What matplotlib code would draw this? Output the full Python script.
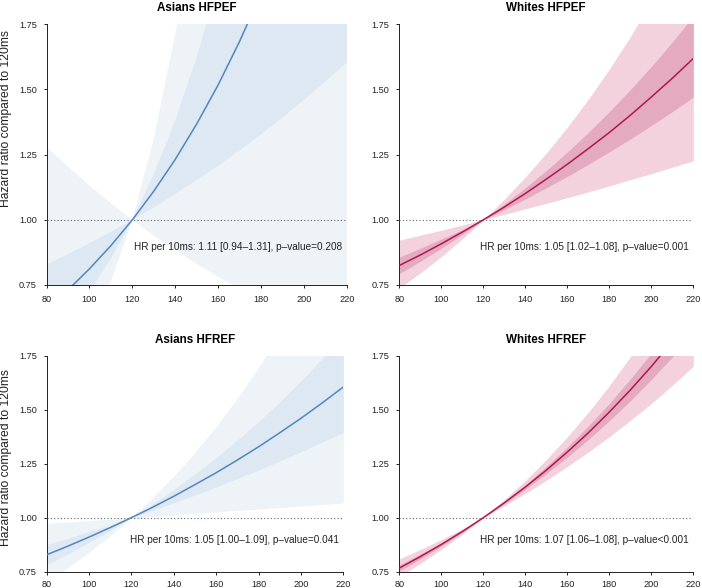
import matplotlib
matplotlib.use("Agg")
import matplotlib.pyplot as plt

plt.rcParams['font.family'] = ['Liberation Sans', 'DejaVu Sans']

# QRS duration (ms) grid
ms = [80, 90, 100, 110, 120, 130, 140, 150, 160, 170, 180, 190, 200, 210, 220]

# Asians HFPEF
a_pef_hr = [0.659, 0.731, 0.812, 0.901, 1.000, 1.110, 1.232, 1.368, 1.518, 1.685, 1.870, 2.076, 2.305, 2.558, 2.839]
a_pef_lo95 = [1.281, 1.204, 1.132, 1.064, 1.000, 0.940, 0.884, 0.831, 0.781, 0.734, 0.690, 0.649, 0.610, 0.573, 0.539]
a_pef_hi95 = [0.340, 0.445, 0.583, 0.763, 1.000, 1.310, 1.716, 2.248, 2.945, 3.858, 5.054, 6.621, 8.673, 11.36, 14.88]
a_pef_lo50 = [0.828, 0.868, 0.910, 0.954, 1.000, 1.048, 1.099, 1.153, 1.208, 1.267, 1.328, 1.393, 1.460, 1.531, 1.605]
a_pef_hi50 = [0.524, 0.616, 0.724, 0.851, 1.000, 1.175, 1.381, 1.623, 1.908, 2.242, 2.635, 3.097, 3.640, 4.278, 5.028]

# Whites HFPEF
w_pef_hr = [0.825, 0.865, 0.908, 0.953, 1.000, 1.049, 1.101, 1.156, 1.213, 1.273, 1.335, 1.401, 1.471, 1.543, 1.619]
w_pef_lo95 = [0.922, 0.941, 0.960, 0.980, 1.000, 1.021, 1.042, 1.063, 1.085, 1.107, 1.130, 1.154, 1.177, 1.202, 1.226]
w_pef_hi95 = [0.738, 0.796, 0.859, 0.927, 1.000, 1.079, 1.164, 1.256, 1.355, 1.462, 1.578, 1.702, 1.837, 1.982, 2.138]
w_pef_lo50 = [0.857, 0.891, 0.926, 0.962, 1.000, 1.039, 1.080, 1.123, 1.167, 1.213, 1.261, 1.310, 1.362, 1.415, 1.471]
w_pef_hi50 = [0.794, 0.841, 0.891, 0.944, 1.000, 1.060, 1.123, 1.189, 1.260, 1.335, 1.415, 1.499, 1.588, 1.682, 1.782]

# Asians HFREF
a_ref_hr = [0.828, 0.868, 0.910, 0.954, 1.000, 1.048, 1.099, 1.153, 1.208, 1.267, 1.328, 1.393, 1.460, 1.531, 1.605]
a_ref_lo95 = [0.974, 0.980, 0.987, 0.993, 1.000, 1.007, 1.013, 1.020, 1.027, 1.034, 1.040, 1.047, 1.054, 1.061, 1.068]
a_ref_hi95 = [0.703, 0.768, 0.839, 0.916, 1.000, 1.092, 1.193, 1.302, 1.422, 1.553, 1.696, 1.852, 2.022, 2.208, 2.411]
a_ref_lo50 = [0.875, 0.905, 0.936, 0.967, 1.000, 1.034, 1.069, 1.105, 1.143, 1.181, 1.221, 1.263, 1.305, 1.350, 1.395]
a_ref_hi50 = [0.783, 0.832, 0.885, 0.941, 1.000, 1.063, 1.131, 1.202, 1.278, 1.359, 1.445, 1.536, 1.633, 1.736, 1.846]

# Whites HFREF
w_ref_hr = [0.767, 0.820, 0.876, 0.936, 1.000, 1.069, 1.142, 1.220, 1.304, 1.393, 1.489, 1.591, 1.700, 1.816, 1.941]
w_ref_lo95 = [0.809, 0.853, 0.899, 0.948, 1.000, 1.055, 1.112, 1.173, 1.237, 1.304, 1.375, 1.450, 1.529, 1.613, 1.701]
w_ref_hi95 = [0.728, 0.788, 0.853, 0.924, 1.000, 1.083, 1.172, 1.269, 1.374, 1.488, 1.611, 1.745, 1.889, 2.045, 2.215]
w_ref_lo50 = [0.781, 0.831, 0.884, 0.940, 1.000, 1.064, 1.132, 1.204, 1.280, 1.362, 1.449, 1.541, 1.640, 1.744, 1.855]
w_ref_hi50 = [0.753, 0.809, 0.868, 0.932, 1.000, 1.073, 1.152, 1.237, 1.327, 1.425, 1.529, 1.642, 1.762, 1.891, 2.030]

titles = ["Asians HFPEF", "Whites HFPEF", "Asians HFREF", "Whites HFREF"]
labels = [
    "HR per 10ms: 1.11 [0.94\u20131.31], p\u2013value=0.208",
    "HR per 10ms: 1.05 [1.02\u20131.08], p\u2013value=0.001",
    "HR per 10ms: 1.05 [1.00\u20131.09], p\u2013value=0.041",
    "HR per 10ms: 1.07 [1.06\u20131.08], p\u2013value<0.001",
]
ylab = "Hazard ratio compared to 120ms"

blue = dict(line="#5286bd", outer="#eef3f8", inner="#dde8f2")
pink = dict(line="#b0174f", outer="#f3d1dd", inner="#e4aac0")

panels = [
    (a_pef_hr, a_pef_lo95, a_pef_hi95, a_pef_lo50, a_pef_hi50, blue),
    (w_pef_hr, w_pef_lo95, w_pef_hi95, w_pef_lo50, w_pef_hi50, pink),
    (a_ref_hr, a_ref_lo95, a_ref_hi95, a_ref_lo50, a_ref_hi50, blue),
    (w_ref_hr, w_ref_lo95, w_ref_hi95, w_ref_lo50, w_ref_hi50, pink),
]

W, H = 702, 588
# axes boxes in pixels: left, top, right, bottom
boxes = [
    (46.5, 24.3, 347.0, 285.0),
    (399.3, 24.3, 693.3, 285.0),
    (46.5, 355.7, 343.3, 571.7),
    (399.3, 355.7, 693.3, 571.7),
]
xpads = [4.5, 4.5, 3.2, 3.2]

fig = plt.figure(figsize=(W / 100, H / 100), dpi=100)

for i, (hr, lo95, hi95, lo50, hi50, col) in enumerate(panels):
    l, t, r, b = boxes[i]
    ax = fig.add_axes([l / W, 1 - b / H, (r - l) / W, (b - t) / H])
    ax.fill_between(ms, lo95, hi95, color=col["outer"], lw=0, zorder=1)
    ax.fill_between(ms, lo50, hi50, color=col["inner"], lw=0, zorder=2)
    ax.plot(ms, hr, color=col["line"], lw=1.1, zorder=4, solid_capstyle="butt")
    ax.axhline(1.0, color="#666666", lw=0.8, ls=(0, (1, 2)), zorder=3)
    ax.text(217.8, 0.897, labels[i], ha="right", va="center", fontsize=7.2, color="#222222", zorder=5)

    ax.set_xlim(80, 220)
    ax.set_ylim(0.75, 1.75)
    ax.set_xticks([80, 100, 120, 140, 160, 180, 200, 220])
    ax.set_yticks([0.75, 1.00, 1.25, 1.50, 1.75])
    ax.set_yticklabels(["0.75", "1.00", "1.25", "1.50", "1.75"])
    ax.tick_params(labelsize=6.6, length=2.5, width=0.7, colors="#222222")
    ax.tick_params(axis="x", pad=xpads[i])
    ax.tick_params(axis="y", pad=4.5)
    for side in ["top", "right"]:
        ax.spines[side].set_visible(False)
    for side in ["left", "bottom"]:
        ax.spines[side].set_linewidth(0.7)
        ax.spines[side].set_color("#222222")
    ax.set_title(titles[i], fontsize=8.4, fontweight="bold", pad=9.5)

# y labels sit a little above the axis centres, as in the original
fig.text(6.5 / W, 1 - 119 / H, ylab, rotation=90, ha="center", va="center", fontsize=8.7, color="#222222")
fig.text(6.5 / W, 1 - 457 / H, ylab, rotation=90, ha="center", va="center", fontsize=8.7, color="#222222")

fig.savefig("out.png", dpi=100)
